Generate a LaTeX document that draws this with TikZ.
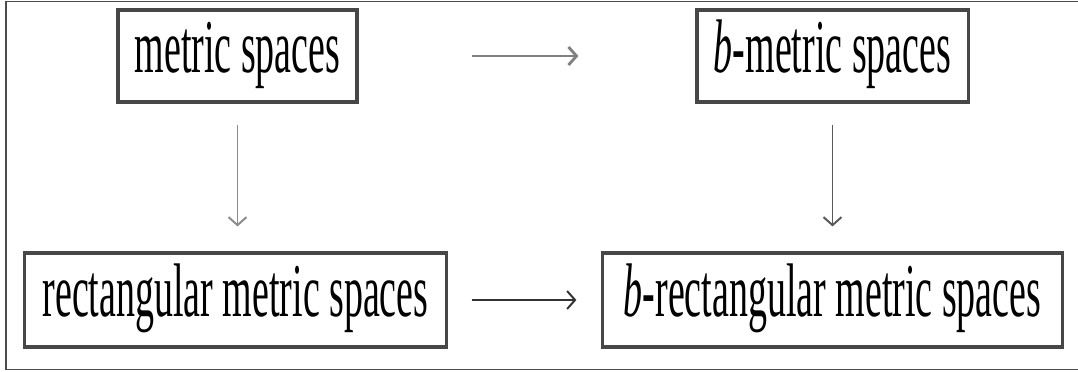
\documentclass[tikz,border=0pt]{standalone}
\usepackage{fontspec}
\setmainfont{Liberation Serif}
\usetikzlibrary{arrows.meta}
\newcommand{\boxtext}[1]{\scalebox{0.5}[1]{#1}}
\begin{document}
\begin{tikzpicture}[x=0.025cm,y=-0.025cm,
  spacebox/.style={draw=black!72, line width=2.2pt, inner sep=0pt, fill=white,
    font=\fontsize{54}{60}\selectfont, text height=36pt, text depth=12pt},
  linkarrow/.style={line width=1.4pt, -{Straight Barb[length=0.2cm,width=0.45cm]}},
  ]
\useasboundingbox (0,0) rectangle (1078,372);
\fill[white] (0,0) rectangle (1078,372);
\draw[black!70, line width=1.2pt] (1080,1.5) -- (6,1.5) -- (6,369.5) -- (1080,369.5);

\node[spacebox, minimum width=5.975cm, minimum height=2.3cm] (ms) at (237.5,56) {\boxtext{metric spaces}};
\node[spacebox, minimum width=6.775cm, minimum height=2.3cm] (bms) at (832.5,56) {\boxtext{\textit{b}-metric spaces}};
\node[spacebox, minimum width=10.525cm, minimum height=2.35cm] (rms) at (235.5,300) {\boxtext{rectangular metric spaces}};
\node[spacebox, minimum width=11.475cm, minimum height=2.35cm] (brms) at (832.5,300) {\boxtext{\textit{b}-rectangular metric spaces}};

\draw[linkarrow, black!50, line width=2pt, shorten <=2.825cm, shorten >=2.925cm] (ms.east) -- (bms.west);
\draw[linkarrow, black!45, shorten <=0.525cm, shorten >=0.625cm] (ms.south) -- (ms.south |- rms.north);
\draw[linkarrow, black!65, shorten <=0.525cm, shorten >=0.625cm] (bms.south) -- (brms.north);
\draw[linkarrow, black!80, shorten <=0.6cm, shorten >=0.625cm] (rms.east) -- (brms.west);
\end{tikzpicture}
\end{document}
